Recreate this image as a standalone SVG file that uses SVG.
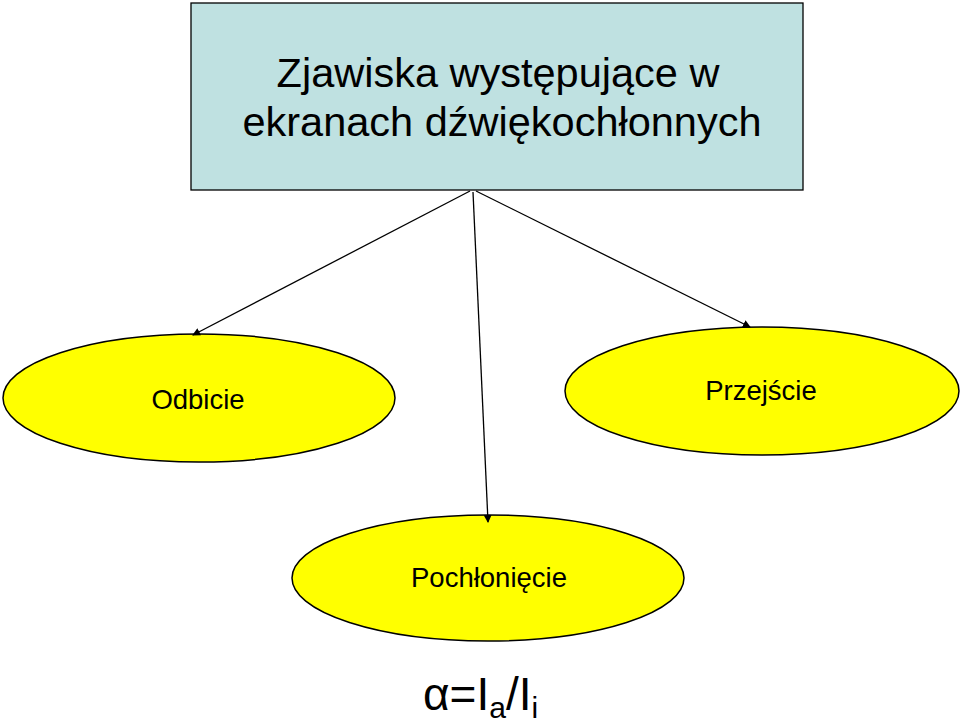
<svg xmlns="http://www.w3.org/2000/svg" width="960" height="724" viewBox="0 0 960 724">
<style>
text{font-family:"Liberation Sans",Arial,sans-serif;fill:#000}
.el{fill:#FFFF00;stroke:#000;stroke-width:1.5}
.c{stroke:#000;stroke-width:1.3;fill:none;marker-end:url(#a)}
</style>
<defs><marker id="a" markerWidth="8" markerHeight="8" refX="7" refY="4" orient="auto" markerUnits="userSpaceOnUse" viewBox="0 0 8 8"><path d="M0,0 L8,4 L0,8 Z" fill="#000"/></marker></defs>
<rect width="960" height="724" fill="#fff"/>
<g id="title"><rect x="191" y="3" width="612" height="187" fill="#BFE1E1" stroke="#000" stroke-width="1.3"/>
<text x="498" y="87" font-size="41.5" text-anchor="middle">Zjawiska występujące w</text>
<text x="502" y="136" font-size="41.5" text-anchor="middle">ekranach dźwiękochłonnych</text></g>
<g id="odbicie"><ellipse class="el" cx="199" cy="398" rx="196" ry="64"/><text x="198" y="409" font-size="27.5" text-anchor="middle">Odbicie</text></g>
<g id="przejscie"><ellipse class="el" cx="762" cy="391" rx="197" ry="64"/><text x="761" y="400" font-size="27.5" text-anchor="middle">Przejście</text></g>
<g id="pochloniecie"><ellipse class="el" cx="488" cy="578" rx="196" ry="63"/><text x="489" y="587" font-size="27.5" text-anchor="middle">Pochłonięcie</text></g>
<g id="connectors">
<line class="c" x1="470" y1="191" x2="193" y2="335"/>
<line class="c" x1="473" y1="192" x2="488" y2="522"/>
<line class="c" x1="476" y1="191" x2="750" y2="327"/>
</g>
<text x="423" y="710" font-size="46">α=I<tspan font-size="30" dy="8">a</tspan><tspan dy="-8">/I</tspan><tspan font-size="30" dy="8">i</tspan></text>
</svg>
